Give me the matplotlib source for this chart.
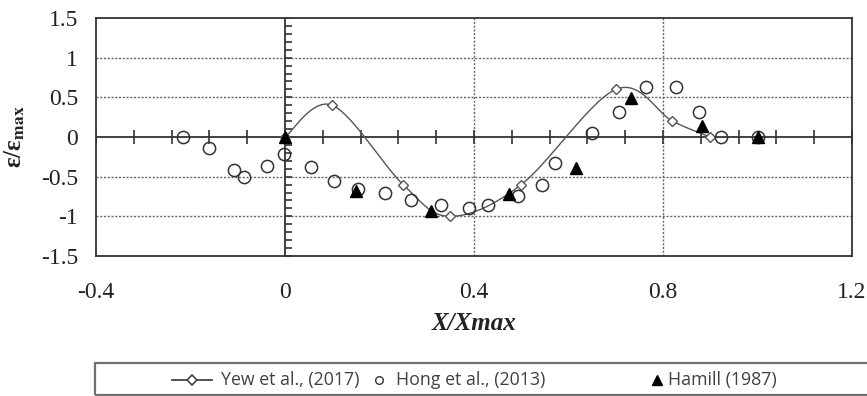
import numpy as np
import matplotlib
matplotlib.use('Agg')
from matplotlib import pyplot as plt
from matplotlib.lines import Line2D
from matplotlib.patches import Rectangle

# Yew et al. (2017), smoothed line with diamonds
yew_x = [0.0, 0.1, 0.25, 0.35, 0.5, 0.7, 0.82, 0.9]
yew_y = [0.0, 0.4, -0.6, -1.0, -0.6, 0.6, 0.2, 0.0]

# Hong et al. (2013), open circles
hong_x = [-0.216, -0.16, -0.108, -0.087, -0.038, -0.003, 0.055, 0.104, 0.154, 0.211,
          0.267, 0.331, 0.389, 0.43, 0.494, 0.544, 0.572, 0.65, 0.707, 0.764,
          0.828, 0.877, 0.922, 1.0]
hong_y = [0.0, -0.135, -0.41, -0.51, -0.37, -0.21, -0.38, -0.56, -0.66, -0.70,
          -0.80, -0.86, -0.89, -0.86, -0.74, -0.61, -0.33, 0.05, 0.31, 0.63,
          0.63, 0.31, 0.0, 0.0]

# Hamill (1987), filled triangles
ham_x = [0.0, 0.151, 0.31, 0.475, 0.615, 0.733, 0.883, 1.0]
ham_y = [0.0, -0.68, -0.93, -0.72, -0.39, 0.49, 0.14, 0.0]

labels = ['Yew et al., (2017)', 'Hong et al., (2013)', 'Hamill (1987)']


def smooth(xs, ys, n=40):
    # excel-like smoothed line: cubic bezier with catmull-rom control points
    p = np.column_stack([xs, ys])
    p = np.vstack([p[0], p, p[-1]])
    out = []
    for i in range(1, len(p) - 2):
        p0, p1, p2, p3 = p[i - 1], p[i], p[i + 1], p[i + 2]
        c1 = p1 + (p2 - p0) / 6
        c2 = p2 - (p3 - p1) / 6
        t = np.linspace(0, 1, n)[:, None]
        seg = ((1 - t) ** 3) * p1 + 3 * ((1 - t) ** 2) * t * c1 + 3 * (1 - t) * t ** 2 * c2 + t ** 3 * p2
        out.append(seg)
    out = np.vstack(out)
    return out[:, 0], out[:, 1]


plt.rcParams['mathtext.fontset'] = 'stix'
serif = 'Liberation Serif'

fig = plt.figure(figsize=(8.67, 3.96), dpi=100)
ax = fig.add_axes([96 / 867, 1 - 256 / 396, (852 - 96) / 867, (256 - 18) / 396])

ax.set_xlim(-0.4, 1.2)
ax.set_ylim(-1.5, 1.5)
ax.set_xticks([-0.4, 0, 0.4, 0.8, 1.2])
ax.set_xticklabels(['-0.4', '0', '0.4', '0.8', '1.2'])
ax.set_yticks([-1.5, -1, -0.5, 0, 0.5, 1, 1.5])
ax.set_yticklabels(['-1.5', '-1', '-0.5', '0', '0.5', '1', '1.5'])
ax.tick_params(length=0, labelsize=17, colors='#222222')
ax.tick_params(axis='x', pad=19)
ax.tick_params(axis='y', pad=13)
for lab in ax.get_xticklabels() + ax.get_yticklabels():
    lab.set_fontfamily(serif)

for v in [-1, -0.5, 0.5, 1]:
    ax.axhline(v, color='#666666', lw=1, ls=(0, (1.5, 1.2)), zorder=1)
for v in [0.4, 0.8]:
    ax.axvline(v, color='#666666', lw=1, ls=(0, (1.5, 1.2)), zorder=1)
for s in ax.spines.values():
    s.set_linewidth(1.3)
    s.set_color('#333333')

# axes through the origin with their own tick marks
ax.axhline(0, color='#333333', lw=1.3, zorder=2)
ax.axvline(0, color='#333333', lw=1.3, zorder=2)
xt = np.arange(-0.4, 1.2001, 0.08)
ax.plot(xt, np.zeros_like(xt), ls='none', marker='|', ms=10, mew=1.2, color='#333333', zorder=2)
yt = np.arange(-1.5, 1.5001, 0.1)
ax.plot(np.zeros_like(yt), yt, ls='none', marker=1, ms=5, mew=1.2, color='#333333', zorder=2)

sx, sy = smooth(yew_x, yew_y)
ax.plot(sx, sy, color='#555555', lw=1, zorder=3)
ax.plot(yew_x, yew_y, ls='none', marker='D', ms=5, mfc='white', mec='#555555', mew=1, zorder=4)
ax.plot(hong_x, hong_y, ls='none', marker='o', ms=8.8, mfc='none', mec='#333333', mew=1.1, zorder=5)
ax.plot(ham_x, ham_y, ls='none', marker='^', ms=8.5, color='black', zorder=6)

ax.set_xlabel('X/Xmax', fontfamily=serif, fontweight='bold', fontstyle='italic',
              fontsize=18, color='#222222', labelpad=6)
ax.set_ylabel(r'ε/ε$_\mathbf{max}$', fontfamily=serif, fontweight='bold', fontsize=18,
              color='#222222', labelpad=10)

# legend strip along the bottom
fig.add_artist(Rectangle((95 / 867, 1 - 395 / 396), 800 / 867, 32 / 396, transform=fig.transFigure,
                         fill=False, ec='#707070', lw=1.6, clip_on=False))
ly = 1 - 380 / 396
fig.add_artist(Line2D([172 / 867, 212 / 867], [ly, ly], transform=fig.transFigure, color='#444444', lw=1.3))
fig.add_artist(Line2D([192 / 867], [ly], transform=fig.transFigure, ls='none', marker='D', ms=5,
                      mfc='white', mec='#444444', mew=1.2))
fig.add_artist(Line2D([379 / 867], [ly], transform=fig.transFigure, ls='none', marker='o', ms=5.5,
                      mfc='none', mec='#333333', mew=1))
fig.add_artist(Line2D([657 / 867], [ly], transform=fig.transFigure, ls='none', marker='^', ms=7,
                      color='black'))
tkw = dict(fontfamily='Open Sans', fontsize=12.8, color='#404040', va='center', ha='left')
fig.text(221 / 867, ly, labels[0], **tkw)
fig.text(396 / 867, ly, labels[1], **tkw)
fig.text(668 / 867, ly, labels[2], **tkw)

fig.savefig('out.png', dpi=100)
